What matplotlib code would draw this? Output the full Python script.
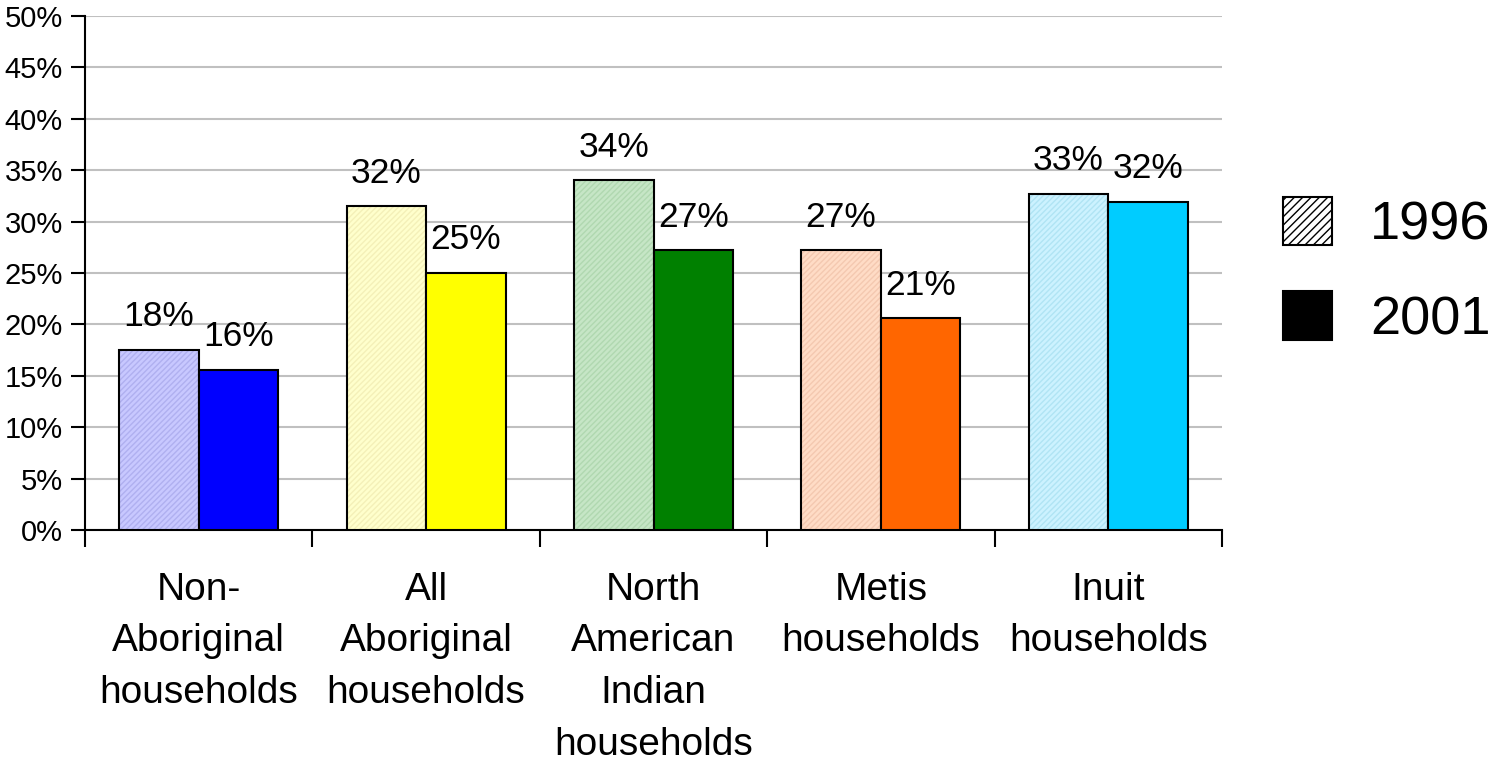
import matplotlib
matplotlib.use("Agg")
import matplotlib.pyplot as plt
from matplotlib.patches import Patch
import numpy as np

categories = ["Non-\nAboriginal\nhouseholds", "All\nAboriginal\nhouseholds",
              "North\nAmerican\nIndian\nhouseholds", "Metis\nhouseholds", "Inuit\nhouseholds"]
values_1996 = [17.5, 31.5, 34.0, 27.2, 32.7]
values_2001 = [15.6, 25.0, 27.2, 20.6, 31.9]
labels_1996 = ["18%", "32%", "34%", "27%", "33%"]
labels_2001 = ["16%", "25%", "27%", "21%", "32%"]
colors_1996 = ["#C8C8FF", "#FFFFCC", "#C6E6C6", "#FFDCC6", "#CCF2FF"]
hatch_1996 = ["#B0B0F0", "#F4F0B8", "#B0D8B0", "#F4C8B0", "#B0E4F4"]
colors_2001 = ["#0000FF", "#FFFF00", "#008000", "#FF6600", "#00CCFF"]
series_names = ["1996", "2001"]

plt.rcParams["font.family"] = ["Liberation Sans", "DejaVu Sans"]
plt.rcParams["hatch.linewidth"] = 1.0

fig = plt.figure(figsize=(14.92, 7.63), dpi=100)
ax = fig.add_axes([85/1492, 1-530/763, (1222-85)/1492, (530-16)/763])

x = np.arange(len(categories))
w = 0.35
x1 = x - w/2
x2 = x + w/2

ax.bar(x1, values_1996, w, color=colors_1996, edgecolor=hatch_1996, hatch="//////", linewidth=0, zorder=3)
ax.bar(x1, values_1996, w, fill=False, edgecolor="black", linewidth=1.5, zorder=4)
ax.bar(x2, values_2001, w, color=colors_2001, edgecolor="black", linewidth=1.5, zorder=4)

for xi, v, t in zip(x1, values_1996, labels_1996):
    ax.annotate(t, (xi, v), xytext=(0, 17), textcoords="offset points",
                ha="center", va="baseline", fontsize=25.5)
for xi, v, t in zip(x2, values_2001, labels_2001):
    ax.annotate(t, (xi, v), xytext=(0, 17), textcoords="offset points",
                ha="center", va="baseline", fontsize=25.5)

ax.set_xlim(-0.5, len(categories) - 0.5)
ax.set_ylim(0, 50)
ax.set_yticks(np.arange(0, 51, 5))
ax.set_yticklabels([f"{v}%" for v in range(0, 51, 5)], fontsize=21)
ax.yaxis.grid(True, color="#C0C0C0", linewidth=1.5, zorder=0)
ax.set_axisbelow(True)

ax.set_xticks(x)
ax.set_xticklabels(categories, fontsize=28, linespacing=1.56)
ax.set_xticks(np.arange(-0.5, len(categories), 1), minor=True)
ax.tick_params(axis="x", which="major", length=0, pad=30)
ax.tick_params(axis="x", which="minor", length=12, width=1.5, direction="out")
ax.tick_params(axis="y", length=10, width=1.5, pad=6)

for s in ["top", "right"]:
    ax.spines[s].set_visible(False)
for s in ["left", "bottom"]:
    ax.spines[s].set_linewidth(1.5)

handles = [Patch(facecolor="white", edgecolor="black", hatch="////", linewidth=1.5),
           Patch(facecolor="black", edgecolor="black", linewidth=1.5)]
fig.legend(handles, series_names, loc="upper left", bbox_to_anchor=(1283/1492, 1-197/763),
           frameon=False, fontsize=39, handlelength=0.91, handleheight=1.0,
           handletextpad=0.7, labelspacing=0.75, borderpad=0, borderaxespad=0)

fig.savefig("out.png", dpi=100)
